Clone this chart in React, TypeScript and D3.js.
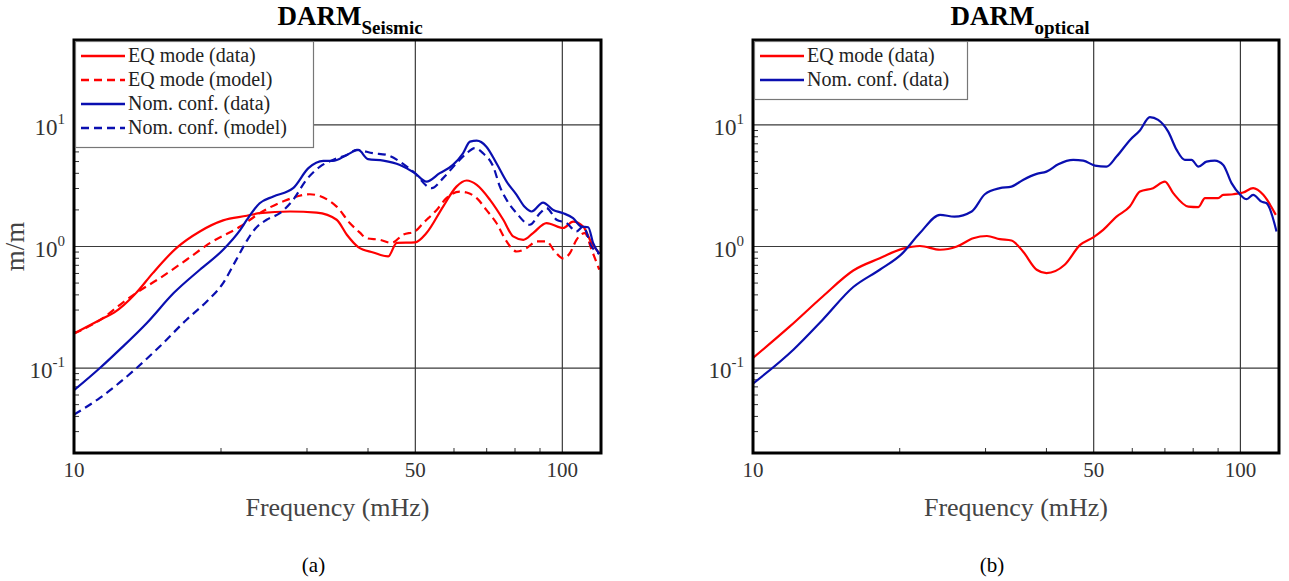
import React from "react";
import * as d3 from "d3";

// ---------- data ----------
// Panel (a): DARM_Seismic
const seisEqDataF = [10, 11.5, 12.1, 13.4, 14.5, 16.2, 18.1, 20.2, 22.6, 24.0, 27.7, 31.4, 34.5, 36.2, 38.2, 41.0, 44.0, 45.8, 49.9, 52.7, 57.0, 60.7, 63.7, 66.8, 71.1, 75.7, 79.3, 83.2, 87.1, 92.8, 100.4, 105.2, 110.3, 114.8, 119];
const seisEqDataV = [0.192, 0.258, 0.287, 0.414, 0.604, 0.97, 1.33, 1.64, 1.79, 1.88, 1.94, 1.9, 1.66, 1.25, 0.99, 0.893, 0.828, 1.07, 1.08, 1.29, 2.13, 3.11, 3.49, 3.21, 2.42, 1.66, 1.21, 1.135, 1.29, 1.56, 1.42, 1.6, 1.46, 1.07, 0.88];

const seisEqModelF = [10, 11.5, 12.4, 13.4, 15.0, 17.0, 19.0, 21.9, 24.0, 27.3, 30.4, 34.5, 36.7, 38.5, 39.7, 42.3, 44.7, 47.2, 49.9, 51.9, 55.3, 57.9, 61.7, 63.7, 66.8, 69.9, 73.3, 76.9, 80.6, 84.5, 88.5, 92.8, 96.5, 100.4, 103.6, 106.9, 111.2, 114.8, 119];
const seisEqModelV = [0.192, 0.26, 0.33, 0.414, 0.55, 0.778, 1.07, 1.46, 1.88, 2.42, 2.69, 2.13, 1.56, 1.3, 1.17, 1.135, 1.07, 1.25, 1.33, 1.56, 2.0, 2.5, 2.83, 2.78, 2.5, 2.0, 1.56, 1.1, 0.91, 0.97, 1.1, 1.1, 0.91, 0.8, 0.88, 1.135, 1.29, 0.94, 0.645];

const seisNomDataF = [10, 11.3, 12.4, 14.1, 16.0, 18.1, 20.2, 21.9, 22.6, 24.0, 25.6, 28.1, 30.2, 32.4, 33.9, 36.2, 38.2, 40.0, 43.0, 46.5, 49.9, 52.7, 56.1, 59.7, 62.6, 64.7, 66.8, 69.9, 73.3, 76.9, 80.6, 83.8, 86.5, 91.3, 95.8, 100.4, 105.2, 109.4, 113, 115.6, 119];
const seisNomDataV = [0.0656, 0.1, 0.1417, 0.235, 0.414, 0.644, 0.94, 1.37, 1.66, 2.27, 2.58, 3.02, 4.41, 5.06, 5.06, 5.67, 6.23, 5.23, 5.09, 4.69, 4.01, 3.42, 4.01, 4.69, 5.85, 7.29, 7.43, 6.63, 4.84, 3.42, 2.66, 2.11, 1.94, 2.3, 2.0, 1.88, 1.71, 1.46, 1.44, 1.07, 0.87];

const seisNomModelF = [10, 11.3, 13.2, 15.0, 17.0, 18.7, 20.2, 21.5, 22.7, 23.5, 24.8, 26.4, 28.1, 29.9, 31.9, 33.9, 36.2, 37.9, 41.0, 43.7, 46.5, 49.5, 54.0, 57.0, 60.7, 63.7, 66.2, 68.8, 72.2, 74.5, 76.9, 80.6, 85.8, 90.0, 92.8, 97.3, 102, 106.9, 110.3, 114.8, 119];
const seisNomModelV = [0.0414, 0.0568, 0.094, 0.151, 0.25, 0.353, 0.5, 0.78, 1.15, 1.4, 1.66, 1.88, 2.42, 3.53, 4.54, 5.16, 5.67, 6.23, 5.85, 5.67, 4.99, 4.13, 3.02, 3.65, 4.84, 5.85, 6.44, 5.85, 4.54, 3.11, 2.42, 1.88, 1.51, 1.88, 2.07, 1.66, 1.56, 1.33, 1.46, 1.0, 0.87];

// Panel (b): DARM_optical
const optEqDataF = [10, 11.9, 13.9, 16.06, 18.2, 20.3, 22.0, 24.2, 26.2, 28.3, 30.2, 32.1, 33.9, 35.8, 38.2, 40.0, 43.6, 46.9, 49.9, 52.3, 55.7, 59.3, 62.2, 66.2, 70.0, 72.8, 78.2, 82.0, 84.6, 90.0, 92.2, 96.7, 101.3, 106.2, 111.4, 118.2];
const optEqDataV = [0.121, 0.22, 0.388, 0.635, 0.8, 0.96, 1.01, 0.94, 1.0, 1.17, 1.22, 1.15, 1.12, 0.91, 0.644, 0.604, 0.707, 1.03, 1.19, 1.37, 1.76, 2.13, 2.83, 3.02, 3.42, 2.75, 2.13, 2.11, 2.5, 2.5, 2.66, 2.69, 2.78, 3.02, 2.66, 1.82];

const optNomDataF = [10, 12.1, 13.9, 16.06, 18.2, 20.2, 22.0, 24.2, 25.9, 28.1, 29.9, 32.1, 33.9, 35.8, 38.2, 40.0, 42.3, 45.4, 47.6, 50.3, 53.1, 55.7, 59.5, 62.2, 65.2, 67.8, 71.1, 74.0, 76.9, 79.4, 82.0, 85.2, 88.6, 92.2, 95.9, 100, 103, 106.2, 110.5, 113.2, 118.6];
const optNomDataV = [0.0745, 0.1416, 0.25, 0.464, 0.644, 0.87, 1.29, 1.82, 1.76, 1.94, 2.69, 3.02, 3.11, 3.53, 3.96, 4.13, 4.75, 5.16, 5.09, 4.63, 4.54, 5.49, 7.6, 9.0, 11.6, 11.0, 8.81, 6.23, 5.16, 5.16, 4.54, 4.99, 5.09, 4.69, 3.32, 2.66, 2.45, 2.66, 2.34, 2.27, 1.33];

const xTickValues = [10, 50, 100];
const xTickLabels = ["10", "50", "100"];
const xMinorTicks = [20, 30, 40, 60, 70, 80, 90];
const yDecades = [0.1, 1, 10];
const yDecadeExp = ["-1", "0", "1"];

const RED = "#ff0000";
const BLUE = "#0a0fb0";
const FONT = "'Liberation Serif', 'Times New Roman', serif";

type Series = { f: number[]; v: number[]; color: string; dash?: string; label: string };

const seisSeries: Series[] = [
  { f: seisEqDataF, v: seisEqDataV, color: RED, label: "EQ mode (data)" },
  { f: seisEqModelF, v: seisEqModelV, color: RED, dash: "8,5", label: "EQ mode (model)" },
  { f: seisNomDataF, v: seisNomDataV, color: BLUE, label: "Nom. conf. (data)" },
  { f: seisNomModelF, v: seisNomModelV, color: BLUE, dash: "8,5", label: "Nom. conf. (model)" },
];
const optSeries: Series[] = [
  { f: optEqDataF, v: optEqDataV, color: RED, label: "EQ mode (data)" },
  { f: optNomDataF, v: optNomDataV, color: BLUE, label: "Nom. conf. (data)" },
];

function minorYTicks(): number[] {
  const out: number[] = [];
  for (const d of [0.01, 0.1, 1, 10]) {
    for (let k = 2; k <= 9; k++) {
      const v = d * k;
      if (v > 0.02 && v < 50) out.push(v);
    }
  }
  return out;
}

function Panel(props: {
  id: string;
  x0: number;
  x1: number;
  series: Series[];
  titleSub: string;
  titleX: number;
  legendW: number;
  yLabel: boolean;
  caption: string;
}) {
  const { id, x0, x1, series, titleSub, titleX, legendW, yLabel, caption } = props;
  const top = 40;
  const bottom = 453;
  const x = d3.scaleLog().domain([10, 120]).range([x0, x1]);
  const y = d3.scaleLog().domain([0.02, 50]).range([bottom, top]);
  const line = d3
    .line<[number, number]>()
    .x((d) => x(d[0]))
    .y((d) => y(d[1]))
    .curve(d3.curveMonotoneX);
  const cx = (x0 + x1) / 2;
  const legRowH = 24;
  const legH = series.length * legRowH + 10;
  return (
    <g>
      <defs>
        <clipPath id={`clip-${id}`}>
          <rect x={x0} y={top} width={x1 - x0} height={bottom - top} />
        </clipPath>
      </defs>
      {/* grid */}
      {yDecades.map((v) => (
        <line key={`gy${v}`} x1={x0} x2={x1} y1={y(v)} y2={y(v)} stroke="#3a3a3a" strokeWidth={1.2} />
      ))}
      {xTickValues.slice(1).map((v) => (
        <line key={`gx${v}`} x1={x(v)} x2={x(v)} y1={top} y2={bottom} stroke="#3a3a3a" strokeWidth={1.2} />
      ))}
      {/* minor ticks */}
      {minorYTicks().map((v) => (
        <line key={`my${v}`} x1={x0} x2={x0 + 5} y1={y(v)} y2={y(v)} stroke="#333" strokeWidth={1} />
      ))}
      {xMinorTicks.map((v) => (
        <line key={`mx${v}`} x1={x(v)} x2={x(v)} y1={bottom} y2={bottom - 5} stroke="#333" strokeWidth={1} />
      ))}
      {/* curves */}
      <g clipPath={`url(#clip-${id})`}>
        {series.map((s, i) => (
          <path
            key={i}
            d={line(s.f.map((f, j) => [f, s.v[j]] as [number, number])) || ""}
            fill="none"
            stroke={s.color}
            strokeWidth={2.2}
            strokeDasharray={s.dash}
            strokeLinejoin="round"
          />
        ))}
      </g>
      {/* frame */}
      <rect x={x0} y={top} width={x1 - x0} height={bottom - top} fill="none" stroke="#000" strokeWidth={3} />
      {/* legend */}
      <rect x={x0 + 1.5} y={top + 1.5} width={legendW} height={legH} fill="#fff" stroke="#777" strokeWidth={1.2} />
      {series.map((s, i) => {
        const ly = top + 16 + i * legRowH;
        return (
          <g key={`lg${i}`}>
            <line x1={x0 + 7} x2={x0 + 51} y1={ly} y2={ly} stroke={s.color} strokeWidth={2.5} strokeDasharray={s.dash ? "8,5" : undefined} />
            <text x={x0 + 54} y={ly + 6} fontFamily={FONT} fontSize={20} fill="#222">
              {s.label}
            </text>
          </g>
        );
      })}
      {/* x tick labels */}
      {xTickValues.map((v, i) => (
        <text key={`xt${v}`} x={x(v)} y={477} textAnchor="middle" fontFamily={FONT} fontSize={21} fill="#333">
          {xTickLabels[i]}
        </text>
      ))}
      {/* y tick labels */}
      {yDecades.map((v, i) => (
        <text key={`yt${v}`} x={x0 - 9} y={y(v) + 10} textAnchor="end" fontFamily={FONT} fontSize={23} fill="#333">
          10
          <tspan dy={-11} fontSize={15}>
            {yDecadeExp[i]}
          </tspan>
        </text>
      ))}
      {/* x label */}
      <text x={cx} y={516} textAnchor="middle" fontFamily={FONT} fontSize={26} fill="#444">
        Frequency (mHz)
      </text>
      {yLabel && (
        <text transform={`translate(24,${y(1)}) rotate(-90)`} textAnchor="middle" fontFamily={FONT} fontSize={27} fill="#444">
          m/m
        </text>
      )}
      {/* title */}
      <text x={titleX} y={25} textAnchor="middle" fontFamily={FONT} fontWeight="bold" fontSize={27} fill="#000">
        DARM
        <tspan dy={9} fontSize={19}>
          {titleSub}
        </tspan>
      </text>
      {/* caption */}
      <text x={cx - 24} y={572} textAnchor="middle" fontFamily={FONT} fontSize={21} fill="#000">
        {caption}
      </text>
    </g>
  );
}

export default function App() {
  return (
    <svg width={1289} height={581} style={{ position: "absolute", left: 0, top: 0, background: "#fff" }}>
      <rect x={0} y={0} width={1289} height={581} fill="#fff" />
      <Panel id="a" x0={74} x1={601} series={seisSeries} titleSub="Seismic" titleX={350} legendW={238} yLabel={true} caption="(a)" />
      <Panel id="b" x0={753} x1={1279} series={optSeries} titleSub="optical" titleX={1020} legendW={213} yLabel={false} caption="(b)" />
    </svg>
  );
}
